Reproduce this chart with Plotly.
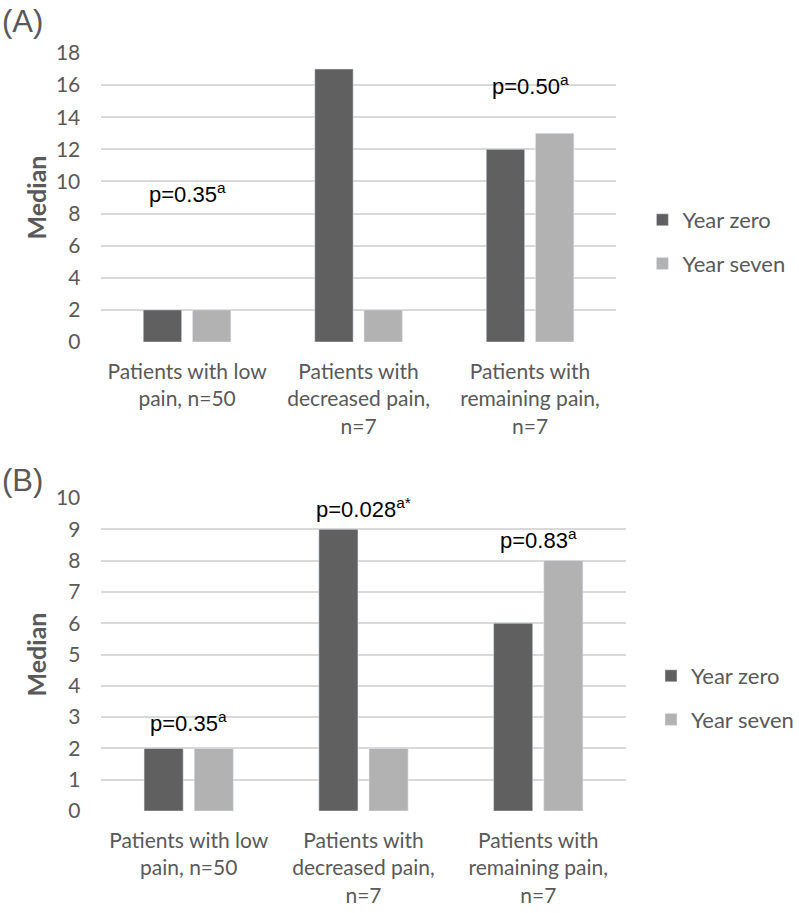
import plotly.graph_objects as go

categories = ["Patients with low<br>pain, n=50",
              "Patients with<br>decreased pain,<br>n=7",
              "Patients with<br>remaining pain,<br>n=7"]
series_names = ["Year zero", "Year seven"]

a_year_zero = [2, 17, 12]
a_year_seven = [2, 2, 13]
b_year_zero = [2, 9, 6]
b_year_seven = [2, 2, 8]

a_pvalues = ["p=0.35<sup>a</sup>", "p=0.028<sup>a</sup>", "p=0.50<sup>a</sup>"]
a_pvalue_y = [9.3, 18.9, 16.0]
b_pvalues = ["p=0.35<sup>a</sup>", "p=0.028<sup>a*</sup>", "p=0.83<sup>a</sup>"]
b_pvalue_y = [2.84, 9.68, 8.69]

a_ticks = list(range(0, 19, 2))
b_ticks = list(range(0, 11, 1))

DARK = "#606060"
LIGHT = "#b2b2b2"
GRID = "#d9d9d9"
TXT = "#595959"
TICKFONT = dict(family="Lato, Carlito, sans-serif", size=21, color=TXT)
PFONT = dict(family="Liberation Sans, Arial", size=22, color="black")
LEGFONT = dict(family="Lato, sans-serif", size=22, color=TXT)

fig = go.Figure()
fig.add_trace(go.Bar(x=categories, y=a_year_zero, name=series_names[0], marker_color=DARK,
                     xaxis="x", yaxis="y", legend="legend", legendgroup="a0"))
fig.add_trace(go.Bar(x=categories, y=a_year_seven, name=series_names[1], marker_color=LIGHT,
                     xaxis="x", yaxis="y", legend="legend", legendgroup="a1"))
fig.add_trace(go.Bar(x=categories, y=b_year_zero, name=series_names[0], marker_color=DARK,
                     xaxis="x2", yaxis="y2", legend="legend2", legendgroup="b0"))
fig.add_trace(go.Bar(x=categories, y=b_year_seven, name=series_names[1], marker_color=LIGHT,
                     xaxis="x2", yaxis="y2", legend="legend2", legendgroup="b1"))

annotations = []
for c, t, yv in zip(categories, a_pvalues, a_pvalue_y):
    annotations.append(dict(x=c, y=yv, xref="x", yref="y", text=t, showarrow=False, font=PFONT))
for c, t, yv in zip(categories, b_pvalues, b_pvalue_y):
    annotations.append(dict(x=c, y=yv, xref="x2", yref="y2", text=t, showarrow=False, font=PFONT))
annotations.append(dict(x=0.0, y=1 - 22 / 913, xref="paper", yref="paper", text="(A)", showarrow=False,
                        xanchor="left", yanchor="middle",
                        font=dict(family="Liberation Sans, Arial", size=31, color=TXT)))
annotations.append(dict(x=0.0, y=1 - 480 / 913, xref="paper", yref="paper", text="(B)", showarrow=False,
                        xanchor="left", yanchor="middle",
                        font=dict(family="Liberation Sans, Arial", size=31, color=TXT)))

xcommon = dict(type="category", showgrid=False, showline=False, zeroline=False, automargin=False,
               tickfont=TICKFONT, ticks="", ticklabelstandoff=15)
ycommon = dict(showgrid=True, gridcolor=GRID, gridwidth=2, zeroline=False, showline=False, automargin=False,
               tickfont=TICKFONT, ticks="", ticklabelstandoff=20,
               title=dict(text="<b>Median</b>", font=dict(family="Lato, sans-serif", size=25, color=TXT),
                          standoff=2))

fig.update_layout(
    width=799, height=913,
    margin=dict(l=0, r=0, t=0, b=0),
    paper_bgcolor="white", plot_bgcolor="white",
    barmode="group", bargap=0.426, bargroupgap=0.22,
    showlegend=True,
    xaxis=dict(domain=[103 / 799, 626 / 799], anchor="y", **xcommon),
    yaxis=dict(domain=[1 - 342 / 913, 1 - 53 / 913], anchor="x", range=[0, 18],
               tickvals=a_ticks, **ycommon),
    xaxis2=dict(domain=[103 / 799, 636 / 799], anchor="y2", **xcommon),
    yaxis2=dict(domain=[1 - 811 / 913, 1 - 498 / 913], anchor="x2", range=[0, 10],
                tickvals=b_ticks, **ycommon),
    legend=dict(x=653 / 799, y=1 - 242 / 913, xanchor="left", yanchor="middle",
                font=LEGFONT, traceorder="grouped", tracegroupgap=12, bgcolor="rgba(0,0,0,0)"),
    legend2=dict(x=662 / 799, y=1 - 698 / 913, xanchor="left", yanchor="middle",
                 font=LEGFONT, traceorder="grouped", tracegroupgap=12, bgcolor="rgba(0,0,0,0)"),
    annotations=annotations,
)

fig.write_html("out.html", post_script="document.body.style.margin='0';",
               config={"displayModeBar": False})
